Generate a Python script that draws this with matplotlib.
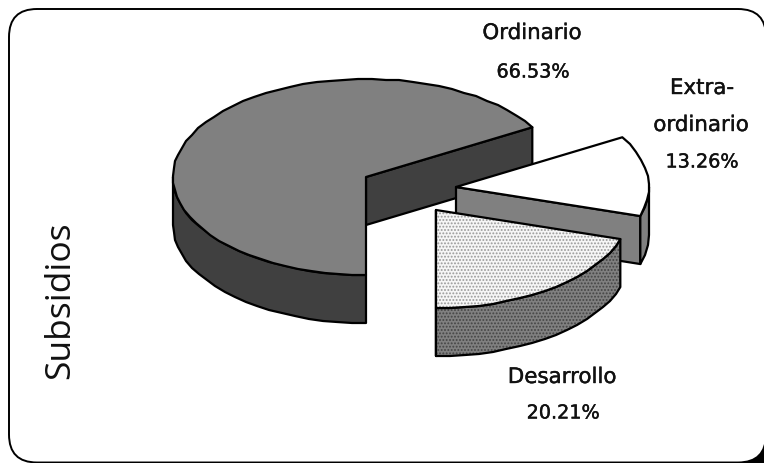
import matplotlib
matplotlib.use("Agg")
import matplotlib.pyplot as plt
import numpy as np
import matplotlib.patheffects as pe
from matplotlib.patches import FancyBboxPatch, Polygon, Rectangle

labels = ["Ordinario", "Extra-", "Desarrollo"]
label_extra = "ordinario"
shares = [66.53, 13.26, 20.21]
title = "Subsidios"

# pie geometry in pixels
rx, ry, depth = 193, 98, 48
centers = [(366, 178), (456, 188), (436, 211)]
top_colors = ["#808080", "white", "#f6f6f6"]
side_colors = ["#404040", "#808080", "#808080"]
hatches = [None, None, "....."]
top_hatch_colors = ["black", "black", "#999999"]
side_hatch_colors = ["black", "black", "#444444"]
# first angle of the outer wall of each slice, 0 or 180 where the wall turns away
wall_start = [270, 0, None]
wall_end = [180, None, None]
label_pos = [(532, 34), (702, 89), (562, 378)]
pct_pos = [(533, 73), (702, 163), (563, 414)]

plt.rcParams["hatch.linewidth"] = 0.9

fig = plt.figure(figsize=(7.64, 4.64), dpi=100)
ax = fig.add_axes([0, 0, 1, 1])
ax.set_xlim(0, 764)
ax.set_ylim(464, 0)
ax.axis("off")

ax.add_patch(Rectangle((740, 445), 24, 19, fc="black", ec="none", zorder=-1))
ax.add_patch(FancyBboxPatch((9, 10), 757, 453.5, boxstyle="round,pad=0,rounding_size=28",
                            fc="white", ec="black", lw=1.4, zorder=0))


def rim(c, a0, a1):
    # rounding to whole pixels gives the slightly rough outline of the original
    n = max(int(abs(a1 - a0) / 4), 2)
    t = np.radians(np.linspace(a0, a1, n))
    pts = np.column_stack([c[0] + rx * np.cos(t), c[1] - ry * np.sin(t)])
    pts[1:-1] = np.round(pts[1:-1])
    return pts


def shape(pts, fc, hatch, hc, z):
    ax.add_patch(Polygon(pts, closed=True, fc=fc, ec=hc, hatch=hatch, lw=0, zorder=z))
    ax.add_patch(Polygon(pts, closed=True, fc="none", ec="black", lw=1.6, joinstyle="round", zorder=z))


def put_text(x, y, s, size=15.4):
    ax.text(x, y, s, ha="center", va="center", fontsize=size, color="#111111",
            path_effects=[pe.withStroke(linewidth=0.3, foreground="#111111")])


# slices run clockwise from straight down
angle = 270.0
for i, v in enumerate(shares):
    a0 = angle
    a1 = angle - v / 100 * 360
    angle = a1
    c = centers[i]
    z = 1 + i * 3
    apex = np.array(c, dtype=float)

    # cut face along the trailing edge
    end = rim(c, a1, a1)[0]
    face = [apex, end, end + [0, depth], apex + [0, depth]]
    shape(face, side_colors[i], hatches[i], side_hatch_colors[i], z)

    # outer wall
    w0 = wall_start[i] if wall_start[i] is not None else a0
    w1 = wall_end[i] if wall_end[i] is not None else a1
    r1 = rim(c, w0, w1)
    wall = np.vstack([r1, r1[::-1] + [0, depth]])
    shape(wall, side_colors[i], hatches[i], side_hatch_colors[i], z + 1)

    # top
    top = np.vstack([[apex], rim(c, a0, a1)])
    shape(top, top_colors[i], hatches[i], top_hatch_colors[i], z + 2)

    put_text(*label_pos[i], labels[i])
    put_text(*pct_pos[i], f"{v:.2f}%", 13.8)

put_text(701, 126, label_extra)

ax.text(60, 300, title, rotation=90, ha="center", va="center", fontsize=25.5, family="Open Sans", color="#111111")

fig.savefig("out.png", dpi=100)
